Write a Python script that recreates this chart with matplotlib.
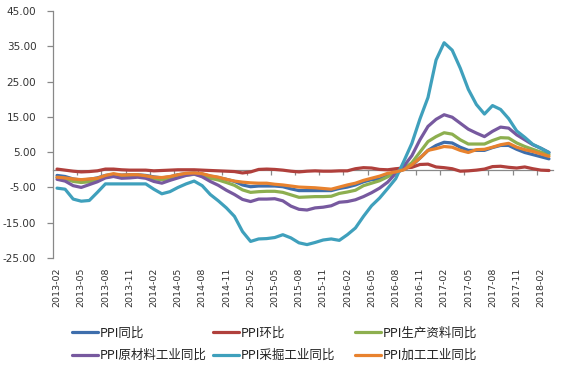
import numpy as np
import pandas as pd
import matplotlib
matplotlib.use("Agg")
import matplotlib.pyplot as plt

# ---------------- data ----------------
months = [p.strftime("%Y-%m") for p in pd.period_range("2013-02", periods=62, freq="M")]
tick_labels = ["2013-02", "2013-05", "2013-08", "2013-11", "2014-02", "2014-05", "2014-08",
               "2014-11", "2015-02", "2015-05", "2015-08", "2015-11", "2016-02", "2016-05",
               "2016-08", "2016-11", "2017-02", "2017-05", "2017-08", "2017-11", "2018-02"]

ppi_yoy = [-1.6, -1.9, -2.6, -2.9, -2.7, -2.3, -1.6, -1.3, -1.5, -1.4, -1.4,
           -1.6, -2.0, -2.3, -2.0, -1.4, -1.1, -0.9, -1.2, -1.8, -2.2, -2.7, -3.3,
           -4.3, -4.8, -4.6, -4.6, -4.6, -4.8, -5.4, -5.9, -5.9, -5.9, -5.9, -5.9,
           -5.3, -4.9, -4.3, -3.4, -2.8, -2.6, -1.7, -0.8, 0.1, 1.2, 3.3, 5.5,
           6.9, 7.8, 7.6, 6.4, 5.5, 5.5, 5.5, 6.3, 6.9, 6.9, 5.8, 4.9,
           4.3, 3.7, 3.1]

ppi_mom = [0.2, -0.1, -0.4, -0.6, -0.5, -0.3, 0.2, 0.2, 0.0, -0.1, -0.1,
           -0.1, -0.3, -0.2, -0.1, 0.0, 0.0, 0.0, -0.1, -0.2, -0.3, -0.4, -0.5,
           -0.9, -0.6, 0.1, 0.2, 0.1, -0.1, -0.4, -0.6, -0.4, -0.3, -0.4, -0.4,
           -0.3, -0.3, 0.3, 0.6, 0.5, 0.1, 0.0, 0.3, 0.5, 0.7, 1.5, 1.6,
           0.8, 0.6, 0.3, -0.4, -0.3, -0.1, 0.2, 0.9, 1.0, 0.7, 0.5, 0.8,
           0.3, -0.1, -0.2]

ppi_producer = [-2.2, -2.5, -3.3, -3.6, -3.4, -3.0, -2.1, -1.8, -1.9, -1.9, -1.8,
                -2.1, -2.6, -2.8, -2.6, -1.8, -1.5, -1.3, -1.6, -2.4, -2.9, -3.6, -4.4,
                -5.7, -6.4, -6.2, -6.1, -6.1, -6.4, -7.1, -7.8, -7.7, -7.6, -7.6, -7.5,
                -6.7, -6.3, -5.8, -4.5, -3.8, -3.1, -2.0, -0.8, 0.3, 2.0, 5.0, 8.0,
                9.4, 10.5, 10.1, 8.5, 7.3, 7.3, 7.3, 8.3, 9.1, 9.0, 7.6, 6.6,
                5.8, 5.0, 4.3]

ppi_raw = [-2.7, -3.2, -4.5, -5.0, -4.2, -3.4, -2.3, -1.9, -2.4, -2.3, -2.1,
           -2.4, -3.3, -3.8, -3.0, -2.3, -1.6, -1.2, -2.0, -3.3, -4.4, -5.8, -7.0,
           -8.4, -9.0, -8.3, -8.3, -8.2, -8.8, -10.3, -11.2, -11.4, -10.8, -10.6, -10.2,
           -9.2, -9.0, -8.5, -7.6, -6.5, -5.2, -3.5, -1.0, 1.0, 4.0, 8.5, 12.3,
           14.3, 15.6, 14.9, 13.2, 11.5, 10.4, 9.4, 10.9, 12.1, 11.8, 9.9, 8.5,
           7.1, 6.1, 4.9]

ppi_mining = [-5.2, -5.5, -8.3, -8.9, -8.7, -6.4, -4.0, -4.0, -4.0, -4.0, -4.0,
              -4.0, -5.5, -6.8, -6.2, -5.0, -4.0, -3.2, -4.5, -7.0, -8.8, -10.8, -13.2,
              -17.5, -20.3, -19.6, -19.5, -19.2, -18.4, -19.3, -20.7, -21.2, -20.6, -19.9, -19.6,
              -20.0, -18.4, -16.5, -13.2, -10.2, -8.0, -5.3, -2.5, 2.4, 7.5, 14.4, 20.5,
              31.1, 36.0, 33.9, 28.8, 22.8, 18.5, 15.8, 18.2, 17.1, 14.5, 11.0, 9.2,
              7.2, 6.1, 4.9]

ppi_process = [-2.1, -2.3, -2.6, -2.8, -2.6, -2.4, -1.6, -1.1, -1.5, -1.4, -1.4,
               -1.7, -2.1, -2.2, -1.9, -1.4, -1.0, -0.9, -1.1, -1.7, -2.1, -2.7, -3.2,
               -3.5, -3.7, -3.8, -3.8, -4.1, -4.3, -4.6, -4.9, -5.0, -5.1, -5.3, -5.5,
               -4.9, -4.3, -3.8, -3.0, -2.4, -1.8, -1.0, -0.6, 0.0, 1.4, 3.3, 5.5,
               6.0, 6.6, 6.4, 5.5, 4.9, 5.7, 5.8, 6.4, 7.1, 7.5, 6.4, 5.7,
               5.2, 4.5, 3.8]

series_names = ["PPI同比", "PPI环比", "PPI生产资料同比", "PPI原材料工业同比", "PPI采掘工业同比", "PPI加工工业同比"]
series_values = [ppi_yoy, ppi_mom, ppi_producer, ppi_raw, ppi_mining, ppi_process]
series_colors = ["#3E6EAC", "#B0403C", "#8DAF4F", "#77599F", "#3FA0BC", "#E8822E"]

# ---------------- figure ----------------
plt.rcParams["font.family"] = ["DejaVu Sans"]
W, H = 565, 372
fig = plt.figure(figsize=(W / 100, H / 100), dpi=100)
ax = fig.add_axes([53 / W, 1 - 258 / H, 500 / W, 247 / H])

x = np.arange(len(months))
handles = []
for vals, name, col in zip(series_values, series_names, series_colors):
    h, = ax.plot(x, vals, color=col, lw=2.3, label=name, zorder=3,
                 solid_joinstyle="round", solid_capstyle="round")
    handles.append(h)

ax.set_xlim(-0.5, len(months) - 0.5)
ax.set_ylim(-25, 45)
ax.set_yticks(np.arange(-25, 46, 10))
ax.set_yticklabels([f"{v:.2f}" for v in np.arange(-25, 46, 10)])

axis_col = "#888888"
for s in ["top", "right"]:
    ax.spines[s].set_visible(False)
ax.spines["left"].set_color(axis_col)
ax.spines["bottom"].set_color(axis_col)
ax.spines["bottom"].set_position(("data", 0))
ax.spines["left"].set_linewidth(0.9)
ax.spines["bottom"].set_linewidth(0.9)

ax.tick_params(axis="y", direction="out", length=4, width=0.9, color=axis_col,
               labelsize=7.5, labelcolor="#333333", pad=8)
ax.set_xticks([])
ax.set_xticks(np.arange(2.5, len(months) - 1, 3), minor=True)
ax.tick_params(axis="x", which="minor", direction="out", length=3.5, width=0.9,
               color=axis_col, labelbottom=False)

sec = ax.secondary_xaxis("bottom")
sec.set_xticks([months.index(t) for t in tick_labels], labels=tick_labels)
sec.spines["bottom"].set_visible(False)
sec.tick_params(axis="x", length=0, pad=7, labelsize=6.8, labelcolor="#333333",
                labelrotation=90)

# ---------------- legend (3 columns) ----------------
order = [[0, 3], [1, 4], [2, 5]]
col_x = [72, 213, 355]
for cx, idx in zip(col_x, order):
    leg = fig.legend([handles[i] for i in idx], [series_names[i] for i in idx],
                     loc="center left", bbox_to_anchor=(cx / W, 1 - 344.5 / H),
                     frameon=False, borderpad=0, borderaxespad=0,
                     handlelength=2.1, handletextpad=0.1, labelspacing=0.75,
                     prop={"family": ["Noto Sans CJK SC", "DejaVu Sans"], "size": 9})
    for t in leg.get_texts():
        t.set_color("#222222")

fig.savefig("out.png", dpi=100)
